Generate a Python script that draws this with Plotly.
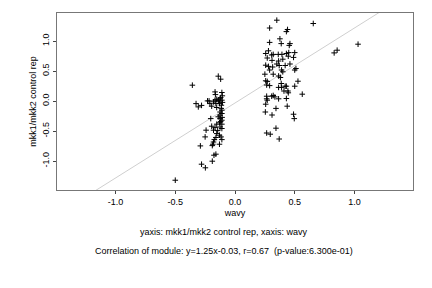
import plotly.graph_objects as go

# Right cluster and outliers (x = wavy, y = mkk1/mkk2 control rep)
right_x = [0.35, 0.29, 0.655, 0.44, 0.43, 0.29, 0.376, 0.387, 0.46, 0.454, 1.03,
           0.257, 0.28, 0.307, 0.32, 0.362, 0.393, 0.43, 0.45, 0.50, 0.446, 0.49,
           0.31, 0.365, 0.855, 0.83, 0.257, 0.28, 0.315, 0.29, 0.37, 0.42, 0.39,
           0.40, 0.51, 0.50, 0.25, 0.32, 0.365, 0.38, 0.257, 0.27, 0.29, 0.265,
           0.387, 0.527, 0.50, 0.365, 0.39, 0.42, 0.43, 0.41, 0.443, 0.446, 0.563,
           0.265, 0.307, 0.32, 0.334, 0.265, 0.27, 0.365, 0.43, 0.257, 0.343,
           0.437, 0.254, 0.31, 0.49, 0.496, 0.343, 0.265, 0.295, 0.37,
           0.27, 0.35, 0.40, 0.46]
right_y = [1.35, 1.22, 1.295, 1.195, 1.16, 0.98, 1.04, 0.96, 0.96, 0.93, 0.95,
           0.795, 0.84, 0.77, 0.78, 0.78, 0.78, 0.795, 0.81, 0.81, 0.75, 0.73,
           0.68, 0.67, 0.85, 0.805, 0.60, 0.58, 0.57, 0.52, 0.595, 0.595, 0.52,
           0.49, 0.545, 0.52, 0.45, 0.45, 0.42, 0.395, 0.34, 0.33, 0.26, 0.27,
           0.295, 0.333, 0.25, 0.23, 0.23, 0.25, 0.25, 0.17, 0.17, 0.14, 0.117,
           0.083, 0.083, 0.095, 0.072, 0.04, 0.017, 0.04, 0.045, -0.05, -0.12,
           -0.083, -0.18, -0.23, -0.217, -0.29, -0.45, -0.53, -0.55, -0.63,
           0.72, 0.62, 0.70, 0.62]

# Left cluster and outliers
left_x = [-0.357, -0.14, -0.12, -0.50, -0.326, -0.307, -0.28, -0.23, -0.217,
          -0.21, -0.195, -0.167, -0.164, -0.11, -0.106, -0.167, -0.153, -0.14,
          -0.125, -0.11, -0.18, -0.16, -0.13, -0.114, -0.153, -0.11, -0.125,
          -0.11, -0.14, -0.203, -0.125, -0.11, -0.13, -0.11, -0.153, -0.195,
          -0.167, -0.125, -0.11, -0.242, -0.18, -0.145, -0.153, -0.13, -0.117,
          -0.25, -0.16, -0.11, -0.173, -0.18, -0.186, -0.13, -0.29, -0.19,
          -0.176, -0.16, -0.19, -0.28, -0.248,
          -0.12, -0.105, -0.115, -0.125, -0.108, -0.12, -0.135]
left_y = [0.267, 0.417, 0.367, -1.317, -0.04, -0.095, -0.07, 0.005, 0.005,
          -0.04, -0.083, 0.155, 0.11, 0.145, 0.09, 0.017, 0.033, 0.017, 0.04,
          0.017, -0.01, -0.04, -0.04, -0.067, -0.105, -0.15, -0.233, -0.205,
          -0.26, -0.29, -0.29, -0.317, -0.36, -0.383, -0.383, -0.417, -0.44,
          -0.43, -0.455, -0.483, -0.483, -0.49, -0.54, -0.567, -0.595, -0.595,
          -0.605, -0.64, -0.64, -0.68, -0.717, -0.717, -0.745, -0.74, -0.9,
          -0.883, -1.0, -1.05, -1.11,
          0.06, -0.02, -0.12, -0.18, -0.27, -0.34, 0.0]

xs = left_x + right_x
ys = left_y + right_y

slope = 1.25
intercept = -0.03
x_range = [-1.49, 1.49]
y_range = [-1.48, 1.47]

x_ticks = [-1.0, -0.5, 0.0, 0.5, 1.0]
x_tick_text = ["-1.0", "-0.5", "0.0", "0.5", "1.0"]
y_ticks = [-1.0, -0.5, 0.0, 0.5, 1.0]
y_tick_text = ["-1.0", "-0.5", "0.0", "0.5", "1.0"]

line_x = [-2.0, 2.0]
line_y = [slope * v + intercept for v in line_x]

font = "Liberation Sans, Arial, sans-serif"
black = "#000000"

fig = go.Figure()
fig.add_trace(go.Scatter(x=line_x, y=line_y, mode="lines",
                         line=dict(color="#cfcfcf", width=1),
                         hoverinfo="skip", showlegend=False))
fig.add_trace(go.Scatter(x=xs, y=ys, mode="markers",
                         marker=dict(symbol="cross-thin", size=4,
                                     line=dict(color=black, width=1),
                                     color=black),
                         showlegend=False))

fig.update_layout(
    width=432, height=288,
    margin=dict(l=57, r=19, t=13, b=98),
    paper_bgcolor="white", plot_bgcolor="white",
    font=dict(family=font, size=9, color=black),
    xaxis=dict(range=x_range, tickvals=x_ticks, ticktext=x_tick_text,
               tickfont=dict(family=font, size=9, color=black),
               showgrid=False, zeroline=False, showline=True, mirror=True,
               linecolor="#777777", linewidth=1, ticks="outside", ticklen=3,
               tickcolor="#444444",
               title=dict(text="wavy", standoff=3,
                          font=dict(family=font, size=9, color=black))),
    yaxis=dict(range=y_range, tickvals=y_ticks, ticktext=y_tick_text,
               tickangle=-90,
               tickfont=dict(family=font, size=9, color=black),
               showgrid=False, zeroline=False, showline=True, mirror=True,
               linecolor="#777777", linewidth=1, ticks="outside", ticklen=3,
               tickcolor="#444444",
               title=dict(text="mkk1/mkk2 control rep", standoff=3,
                          font=dict(family=font, size=9, color=black))),
    annotations=[
        dict(text="yaxis: mkk1/mkk2 control rep, xaxis: wavy", xref="paper", yref="paper",
             x=0.469, y=-0.237, showarrow=False, xanchor="center", yanchor="middle",
             font=dict(family=font, size=9, color=black)),
        dict(text="Correlation of module: y=1.25x-0.03, r=0.67  (p-value:6.300e-01)",
             xref="paper", yref="paper",
             x=0.469, y=-0.345, showarrow=False, xanchor="center", yanchor="middle",
             font=dict(family=font, size=9, color=black)),
    ],
)

fig.write_html("out.html")
